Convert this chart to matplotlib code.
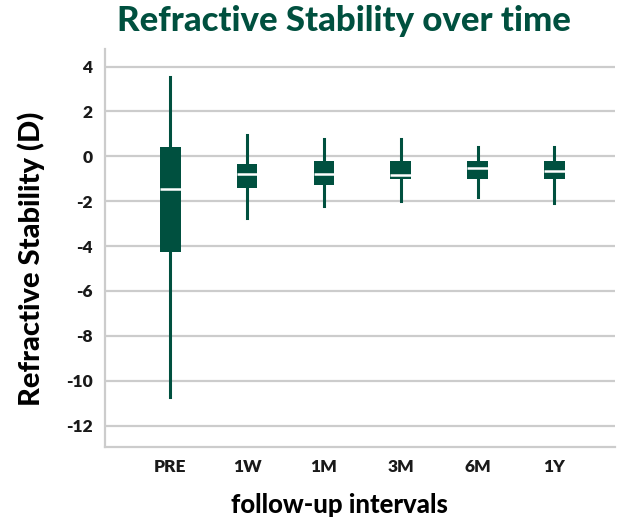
import matplotlib.pyplot as plt

# values
intervals = ["PRE", "1W", "1M", "3M", "6M", "1Y"]
whisker_low = [-10.73, -2.73, -2.23, -1.97, -1.82, -2.10]
q1 = [-4.25, -1.43, -1.27, -0.99, -0.99, -0.99]
median = [-1.45, -0.79, -0.79, -0.85, -0.53, -0.65]
q3 = [0.42, -0.33, -0.20, -0.20, -0.20, -0.20]
whisker_high = [3.53, 0.96, 0.77, 0.77, 0.41, 0.41]

green = "#00503f"
plt.rcParams["font.family"] = ["Lato", "DejaVu Sans"]
plt.rcParams["axes.unicode_minus"] = False

stats = []
for i, name in enumerate(intervals):
    stats.append({"label": name, "whislo": whisker_low[i], "q1": q1[i],
                  "med": median[i], "q3": q3[i], "whishi": whisker_high[i]})

fig = plt.figure(figsize=(6.17, 5.19), dpi=100)
ax = fig.add_axes([105 / 617, 1 - 447 / 519, 510 / 617, 398 / 519])

ax.bxp(stats, positions=range(len(intervals)), widths=0.27,
       patch_artist=True, showcaps=False, showfliers=False,
       boxprops=dict(facecolor=green, edgecolor="none"),
       medianprops=dict(color="white", linewidth=1.8),
       whiskerprops=dict(color=green, linewidth=2.2))

ax.set_xlim(-0.85, 5.79)
ax.set_ylim(-12.95, 4.78)
ax.set_yticks(range(-12, 5, 2))
ax.yaxis.grid(True, color="#cccccc", linewidth=1.6)
ax.set_axisbelow(True)

for s in ["top", "right"]:
    ax.spines[s].set_visible(False)
for s in ["left", "bottom"]:
    ax.spines[s].set_color("#cccccc")
    ax.spines[s].set_linewidth(1.6)
ax.tick_params(length=0, labelsize=12.5, colors="#1a1a1a", pad=9)
for lab in ax.get_xticklabels() + ax.get_yticklabels():
    lab.set_fontweight("heavy")
ax.tick_params(axis="x", pad=9)

ax.set_ylabel("Refractive Stability (D)", fontsize=21, fontweight="black",
              color="black")
ax.yaxis.set_label_coords(-0.118, 0.472)
ax.set_xlabel("follow-up intervals", fontsize=18.5, fontweight="black",
              color="black")
ax.xaxis.set_label_coords(0.459, -0.115)
fig.suptitle("Refractive Stability over time", x=344 / 617, y=0.99,
             fontsize=25, fontweight="black", color=green)

fig.savefig("out.png", dpi=100)
